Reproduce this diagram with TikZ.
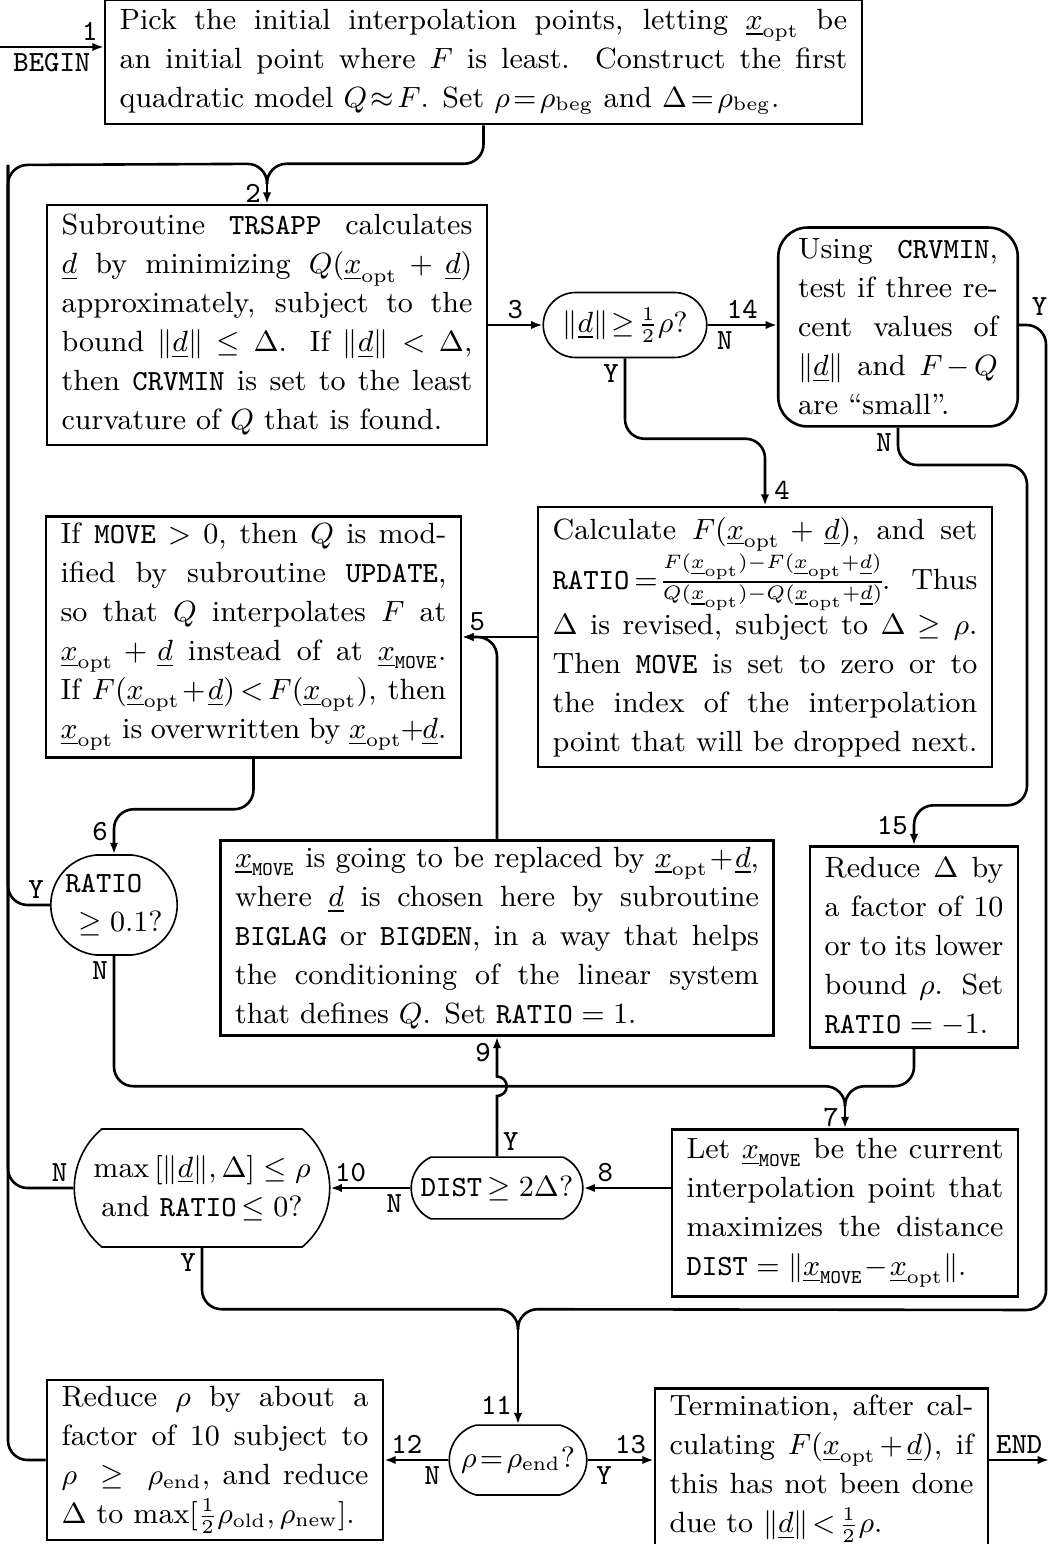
\documentclass[tikz,border=0pt]{standalone}
\usetikzlibrary{shapes.misc,positioning,arrows.meta,calc}

\newcommand{\xopt}{\underline{x}_{\mathrm{opt}}}
\newcommand{\dvec}{\underline{d}}
\newcommand{\xmove}{\underline{x}_{\mathtt{MOVE}}}
\newcommand{\boxfont}{\fontsize{9pt}{12pt}\selectfont}

\begin{document}
\begin{tikzpicture}[
  x=0.3077pt, y=-0.3077pt,
  procbox/.style={draw, rectangle, line width=0.8pt, align=justify, inner xsep=4.5pt, inner ysep=2pt, font=\boxfont},
  testbox/.style={draw, rounded rectangle, line width=0.5pt, align=center, inner sep=1pt, font=\boxfont},
  arrow/.style={-{Latex[length=3.5pt,width=2.6pt]}, line width=0.8pt, rounded corners=6pt},
  link/.style={line width=0.8pt, rounded corners=6pt},
  num/.style={font=\boxfont\ttfamily, inner sep=1.5pt},
]
\useasboundingbox (0,0) rectangle (1049,1544);

% === start ===
\node[procbox, text width=223.9pt, minimum height=38.2pt] (start) at (483.5,62)
  {Pick the initial interpolation points, letting $\xopt$ be\linebreak
   an initial point where $F$ is least. Construct the first\linebreak
   quadratic model $Q\!\approx\!F$. Set $\rho\!=\!\rho_{\rm beg}$ and $\Delta\!=\!\rho_{\rm beg}$.};
\coordinate (begin) at (0,47);

% === trust region step ===
\node[procbox, text width=126.4pt, minimum height=73.8pt] (trsapp) at (267,325)
  {Subroutine \texttt{TRSAPP} calculates\linebreak
   $\dvec$ by minimizing $Q(\xopt+\dvec)$\linebreak
   approximately, subject to the\linebreak
   bound $\|\dvec\|\le\Delta$. If $\|\dvec\|<\Delta$,\linebreak
   then \texttt{CRVMIN} is set to the least\linebreak
   curvature of $Q$ that is found.};
\node[testbox, minimum width=52.3pt, minimum height=20pt] (dtest) at (625,325)
  {$\|\dvec\|\!\ge\!\frac12\rho$?};
\node[procbox, rounded corners=9pt, inner xsep=6.1pt, text width=61.5pt, minimum height=61.2pt] (crv) at (898,327)
  {Using \texttt{CRVMIN},\linebreak
   test if three re-\linebreak
   cent values of\linebreak
   $\|\dvec\|$ and $F\!-\!Q$\linebreak
   are ``small''.};

% === ratio and update ===
\node[procbox, text width=130.7pt, minimum height=80pt] (calc) at (765,637)
  {Calculate $F(\xopt+\dvec)$, and set\linebreak
   \hbox to\linewidth{\nulldelimiterspace=0pt\texttt{RATIO}$\,{=}\,\frac{F(\xopt)-F(\xopt+\dvec)}{Q(\xopt)-Q(\xopt+\dvec)}$.\hfill Thus}\linebreak
   $\Delta$ is revised, subject to $\Delta\ge\rho$.\linebreak
   Then \texttt{MOVE} is set to zero or to\linebreak
   the index of the interpolation\linebreak
   point that will be dropped next.};
\node[procbox, text width=118.7pt, minimum height=73.8pt] (upd) at (253.5,637)
  {If \texttt{MOVE}${}>0$, then $Q$ is mod-\linebreak
   ified by subroutine \texttt{UPDATE},\linebreak
   so that $Q$ interpolates $F$ at\linebreak
   $\xopt+\dvec$ instead of at $\xmove$.\linebreak
   If $F(\xopt\!+\!\dvec)\!<\!F(\xopt)$, then\linebreak
   $\xopt$ is overwritten by $\xopt\!+\!\dvec$.};
\node[testbox, align=left, minimum width=40.9pt, minimum height=30.8pt, rounded rectangle arc length=170] (ratio) at (114,905)
  {\texttt{RATIO}\\\hspace*{4pt}$\ge0.1$?};
\node[procbox, text width=161.2pt, minimum height=58.5pt] (geo) at (497,938)
  {$\xmove$ is going to be replaced by $\xopt\!+\!\dvec$,\linebreak
   where $\dvec$ is chosen here by subroutine\linebreak
   \texttt{BIGLAG} or \texttt{BIGDEN}, in a way that helps\linebreak
   the conditioning of the linear system\linebreak
   that defines $Q$. Set \texttt{RATIO}${}=1$.};
\node[procbox, text width=55pt, minimum height=61.8pt] (red) at (914,947)
  {Reduce $\Delta$ by\linebreak
   a factor of 10\linebreak
   or to its lower\linebreak
   bound $\rho$. Set\linebreak
   \texttt{RATIO}${}=-1$.};

% === far point and tests ===
\node[procbox, text width=97.5pt, minimum height=51.4pt] (far) at (845,1213)
  {Let $\xmove$ be the current\linebreak
   interpolation point that\linebreak
   maximizes the distance\linebreak
   \texttt{DIST}${}=\|\xmove\!-\!\xopt\|$.};
\node[testbox, minimum width=54.8pt, minimum height=19pt, rounded rectangle arc length=130] (dist) at (497,1188)
  {\texttt{DIST}$\,\ge2\Delta$?};
\node[testbox, minimum width=80.6pt, minimum height=36.3pt, rounded rectangle arc length=100] (crit) at (202,1188)
  {$\max\,[\|\dvec\|,\Delta]\le\rho$\\and \texttt{RATIO}$\,\le0$?};

% === final stage ===
\node[testbox, minimum width=44.3pt, minimum height=21.5pt, rounded rectangle arc length=150] (rend) at (518,1460)
  {$\rho\!=\!\rho_{\rm end}$?};
\node[procbox, text width=94.4pt, minimum height=49.2pt] (rho) at (215,1460)
  {Reduce $\rho$ by about a\linebreak
   factor of 10 subject to\linebreak
   $\rho\ \ge\ \rho_{\rm end}$, and reduce\linebreak
   $\Delta$ to $\max[\frac12\rho_{\rm old},\rho_{\rm new}]$.};
\node[procbox, text width=93.5pt, minimum height=44.9pt] (term) at (821.5,1469)
  {Termination, after cal-\linebreak
   culating $F(\xopt\!+\!\dvec)$, if\linebreak
   this has not been done\linebreak
   due to $\|\dvec\|\!<\!\frac12\rho$.};
\coordinate (finish) at (1049,1460);

% === merge points and rails ===
\coordinate (m2) at ([yshift=6.15pt]trsapp.north);
\coordinate (m7) at ([yshift=6.8pt]far.north);
\coordinate (h7) at ([yshift=12.9pt]far.north);
\coordinate (m11) at ([yshift=29.2pt]rend.north);
\coordinate (h11) at ([yshift=35.4pt]rend.north);
\coordinate (rail) at (8,165);
\coordinate (rrail) at (1046,1310);
\coordinate (nrail) at (1027,465);

% === connectors ===
\draw[arrow] (begin) -- node[num, below]{BEGIN} (begin -| start.west) node[num, above left]{1};
\draw[link] (start.south) |- ([yshift=6.15pt]m2) -- (m2);
\draw[link] (rho.west) -| (rail) -- ([yshift=6.15pt]m2) -- (m2);
\draw[arrow] (m2) -- node[num, left]{2} (trsapp.north);

\draw[arrow] (trsapp.east |- dtest.west) -- node[num, above]{3} (dtest.west);
\draw[arrow] (dtest.east) -- node[num, above, pos=0.5]{14} node[num, below, pos=0.25]{N} (crv.west |- dtest.east);
\draw[arrow] (dtest.south) node[num, below left]{Y} |- ([yshift=20.6pt]calc.north) -- (calc.north) node[num, above right, xshift=1pt]{4};
\draw[link] (crv.east |- dtest.east) node[num, above right, xshift=2pt, yshift=1pt]{Y} -| (rrail) -- (h11) -- (m11);
\draw[arrow] (crv.south) node[num, below left]{N} |- (nrail) |- ([yshift=12.3pt]red.north) -- node[num, left]{15} (red.north);

\draw[arrow] (calc.west) -- node[num, above, pos=0.8]{5} (upd.east);
\draw[arrow] (geo.north) |- (upd.east);
\draw[arrow] (upd.south) |- ([yshift=13.8pt]ratio.north) -- node[num, left]{6} (ratio.north);
\draw[link] (ratio.west) node[num, above left]{Y} -| (rail);
\draw[link] (ratio.south) node[num, below left]{N} |- (h7) -- (m7);
\draw[link] (red.south) |- (h7) -- (m7);
\draw[arrow] (m7) -- node[num, left]{7} (far.north);

\draw[arrow] (far.west |- dist.east) -- node[num, above, pos=0.75]{8} (dist.east);
\draw[arrow, sharp corners] (dist.north) node[num, above right]{Y} -- ($(dist.north |- h7)+(0,-3pt)$)
  arc[start angle=-90, end angle=90, radius=3pt] -- (geo.south) node[num, below left]{9};
\draw[arrow] (dist.west) -- node[num, above, pos=0.75]{10} node[num, below, pos=0.2]{N} (crit.east);
\draw[link] (crit.west) node[num, above left]{N} -| (rail);
\draw[link] (crit.south) node[num, below left]{Y} |- (h11) -- (m11);
\draw[arrow] (m11) -- node[num, left, pos=0.8]{11} (rend.north);

\draw[arrow] (rend.west) -- node[num, above, pos=0.65]{12} node[num, below, pos=0.25]{N} (rho.east);
\draw[arrow] (rend.east) -- node[num, above, pos=0.65]{13} node[num, below, pos=0.25]{Y} (term.west |- rend.east);
\draw[arrow] (term.east |- finish) -- node[num, above]{END} (finish);

\end{tikzpicture}
\end{document}
